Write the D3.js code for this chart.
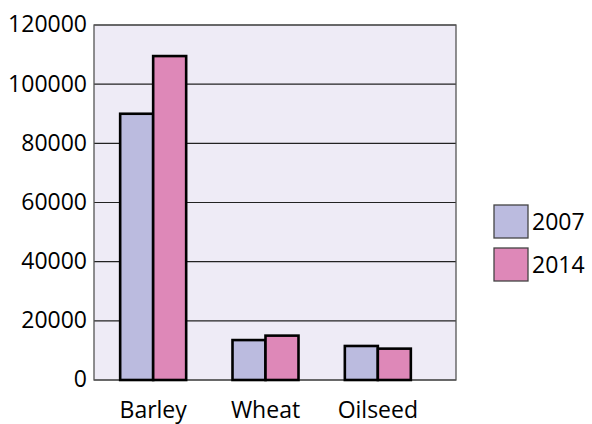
<!DOCTYPE html>
<html>
<head>
<meta charset="utf-8">
<script src="https://cdn.jsdelivr.net/npm/d3@7"></script>
<style>
  body { margin: 0; background: #fff; }
  text { font-family: "Open Sans", sans-serif; fill: #000; }
</style>
</head>
<body>
<div id="chart"></div>
<script>
// data
const categories = ["Barley", "Wheat", "Oilseed"];
const years = ["2007", "2014"];
const values2007 = [90000, 13500, 11500];
const values2014 = [109500, 15000, 10600];
const yTicks = [0, 20000, 40000, 60000, 80000, 100000, 120000];

const colors = ["#bbbbdf", "#de88b8"];

const width = 592, height = 424;
const plot = { left: 94, top: 25, right: 456, bottom: 380 };

const rows = categories.map((c, i) => ({ cat: c, vals: [values2007[i], values2014[i]] }));

const svg = d3.select("#chart").append("svg")
  .attr("width", width)
  .attr("height", height);

const y = d3.scaleLinear()
  .domain([0, 120000])
  .range([plot.bottom, plot.top]);

const x0 = d3.scaleBand()
  .domain(categories)
  .range([plot.left + 3, plot.left + 340]);

const groupW = 66;
const x1 = d3.scaleBand()
  .domain(years)
  .range([0, groupW]);

// plot background
svg.append("rect")
  .attr("x", plot.left)
  .attr("y", plot.top)
  .attr("width", plot.right - plot.left)
  .attr("height", plot.bottom - plot.top)
  .attr("fill", "#eeebf6");

// grid lines
svg.append("g")
  .selectAll("line")
  .data(yTicks)
  .join("line")
  .attr("x1", plot.left)
  .attr("x2", plot.right)
  .attr("y1", d => y(d))
  .attr("y2", d => y(d))
  .attr("stroke", "#222")
  .attr("stroke-width", 1.2);

// border
svg.append("rect")
  .attr("x", plot.left)
  .attr("y", plot.top)
  .attr("width", plot.right - plot.left)
  .attr("height", plot.bottom - plot.top)
  .attr("fill", "none")
  .attr("stroke", "#555")
  .attr("stroke-width", 1.3);

// bars
const groups = svg.append("g")
  .selectAll("g")
  .data(rows)
  .join("g")
  .attr("transform", d => `translate(${x0(d.cat) + (x0.bandwidth() - groupW) / 2},0)`);

groups.selectAll("rect")
  .data(d => d.vals.map((v, i) => ({ year: years[i], value: v, idx: i })))
  .join("rect")
  .attr("x", d => x1(d.year))
  .attr("width", x1.bandwidth())
  .attr("y", d => y(d.value))
  .attr("height", d => y(0) - y(d.value))
  .attr("fill", d => colors[d.idx])
  .attr("stroke", "#000")
  .attr("stroke-width", 2.6);

// y axis labels
const yAxis = d3.axisLeft(y)
  .tickValues(yTicks)
  .tickSize(0)
  .tickPadding(7)
  .tickFormat(d3.format("d"));

const ya = svg.append("g")
  .attr("transform", `translate(${plot.left},0)`)
  .call(yAxis);
ya.select(".domain").remove();
ya.selectAll("text")
  .attr("font-size", 23)
  .attr("font-family", "Open Sans, sans-serif")
  .attr("fill", "#000")
  .attr("dy", "0.3em");

// x axis labels
const xa = svg.append("g")
  .attr("transform", `translate(0,${plot.bottom})`)
  .call(d3.axisBottom(x0).tickSize(0).tickPadding(0));
xa.select(".domain").remove();
xa.selectAll("text")
  .attr("font-size", 23)
  .attr("font-family", "Open Sans, sans-serif")
  .attr("fill", "#000")
  .attr("y", 38)
  .attr("dy", 0);

// legend
const legend = svg.append("g")
  .attr("transform", "translate(494,205)");

const items = legend.selectAll("g")
  .data(years)
  .join("g")
  .attr("transform", (d, i) => `translate(0,${i * 43})`);

items.append("rect")
  .attr("width", 34)
  .attr("height", 33)
  .attr("fill", (d, i) => colors[i])
  .attr("stroke", "#444")
  .attr("stroke-width", 1.3);

items.append("text")
  .attr("x", 38)
  .attr("y", 25)
  .attr("font-size", 23)
  .text(d => d);
</script>
</body>
</html>
